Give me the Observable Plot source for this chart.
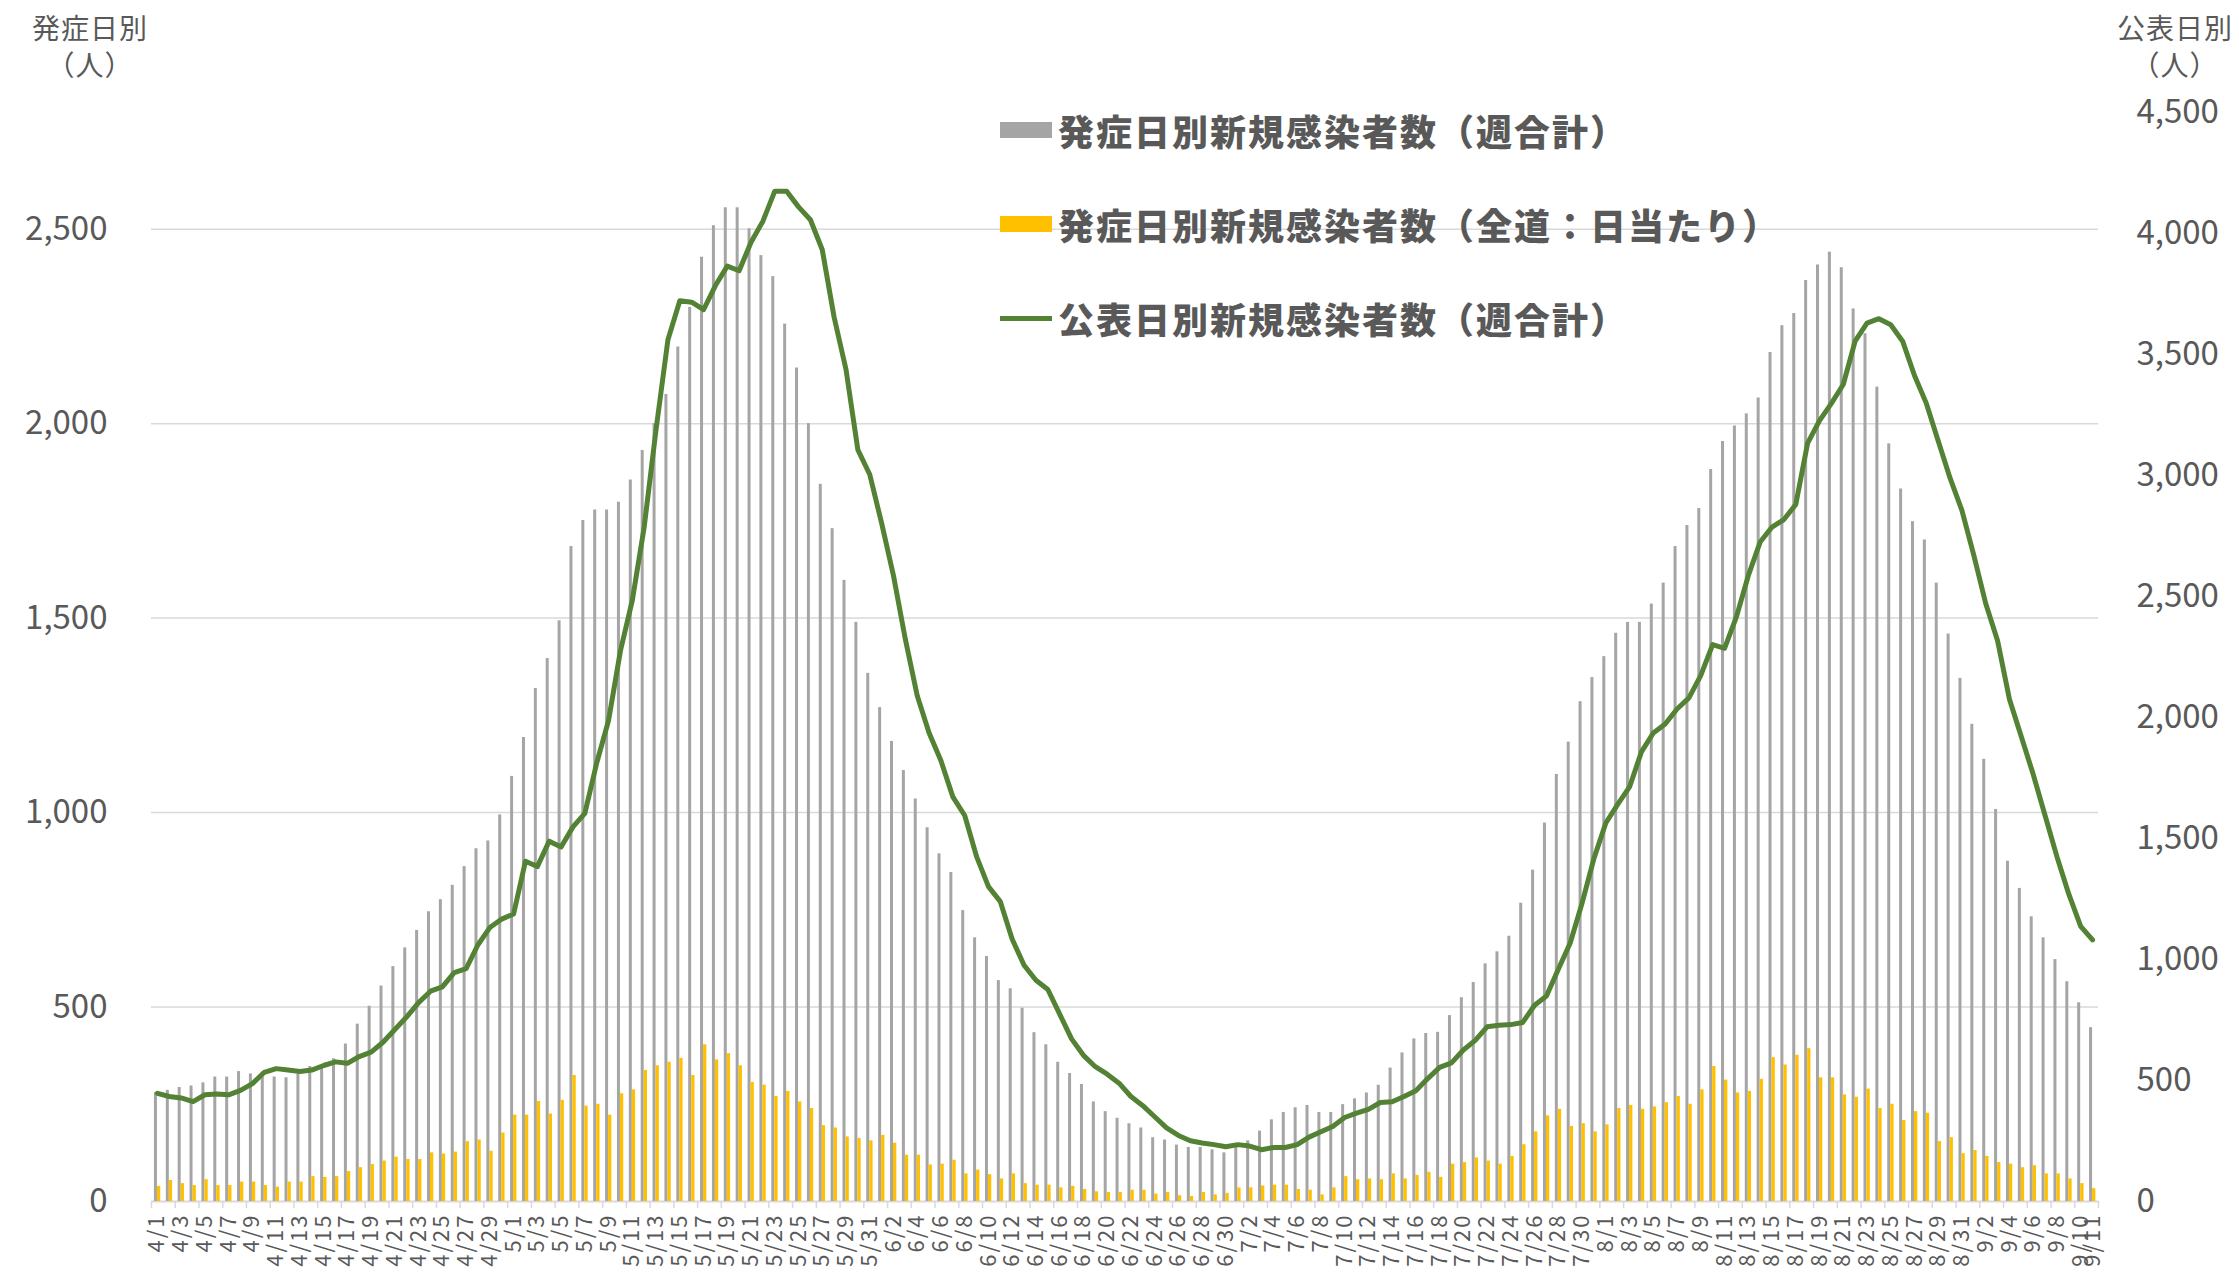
<!DOCTYPE html>
<html><head><meta charset="utf-8">
<script src="https://cdn.jsdelivr.net/npm/d3@7"></script>
<script src="https://cdn.jsdelivr.net/npm/@observablehq/plot@0.6"></script>
<style>
body{margin:0;background:#fff;font-family:"Noto Sans CJK JP","Noto Sans",sans-serif;}
#wrap{position:relative;width:2239px;height:1274px;overflow:hidden;background:#fff;}
#chart svg{position:absolute;left:0;top:0;}
.ttl{position:absolute;color:#595959;font-size:28px;line-height:37px;text-align:center;width:170px;letter-spacing:1px;}
.leg{position:absolute;left:1000px;height:40px;display:flex;align-items:center;white-space:nowrap;font-size:36px;font-weight:900;color:#595959;letter-spacing:2px;}
.sw{width:52px;margin-right:6px;}
[aria-label="x-axis tick label"] text{letter-spacing:2px;}
</style></head>
<body>
<div id="wrap">
<div id="chart"></div>
<div class="ttl" style="left:5px;top:9px">発症日別<br>（人）</div>
<div class="ttl" style="left:2090px;top:9px">公表日別<br>（人）</div>
<div class="leg" style="top:110px"><div class="sw" style="height:16px;background:#a5a5a5"></div>発症日別新規感染者数（週合計）</div>
<div class="leg" style="top:204px"><div class="sw" style="height:16px;background:#ffc000"></div>発症日別新規感染者数（全道：日当たり）</div>
<div class="leg" style="top:298px"><div class="sw" style="height:5px;background:#548235"></div>公表日別新規感染者数（週合計）</div>
</div>
<script>
const dates = [
"4/1","4/2","4/3","4/4","4/5","4/6","4/7","4/8","4/9","4/10","4/11","4/12","4/13","4/14","4/15","4/16","4/17","4/18","4/19","4/20","4/21","4/22","4/23","4/24","4/25","4/26","4/27","4/28","4/29","4/30",
"5/1","5/2","5/3","5/4","5/5","5/6","5/7","5/8","5/9","5/10","5/11","5/12","5/13","5/14","5/15","5/16","5/17","5/18","5/19","5/20","5/21","5/22","5/23","5/24","5/25","5/26","5/27","5/28","5/29","5/30","5/31",
"6/1","6/2","6/3","6/4","6/5","6/6","6/7","6/8","6/9","6/10","6/11","6/12","6/13","6/14","6/15","6/16","6/17","6/18","6/19","6/20","6/21","6/22","6/23","6/24","6/25","6/26","6/27","6/28","6/29","6/30",
"7/1","7/2","7/3","7/4","7/5","7/6","7/7","7/8","7/9","7/10","7/11","7/12","7/13","7/14","7/15","7/16","7/17","7/18","7/19","7/20","7/21","7/22","7/23","7/24","7/25","7/26","7/27","7/28","7/29","7/30","7/31",
"8/1","8/2","8/3","8/4","8/5","8/6","8/7","8/8","8/9","8/10","8/11","8/12","8/13","8/14","8/15","8/16","8/17","8/18","8/19","8/20","8/21","8/22","8/23","8/24","8/25","8/26","8/27","8/28","8/29","8/30","8/31",
"9/1","9/2","9/3","9/4","9/5","9/6","9/7","9/8","9/9","9/10","9/11"];

// 発症日別新規感染者数（週合計） — left axis
const onsetWeekly = [
280,286,293,297,305,320,320,334,328,322,320,318,328,347,342,367,405,456,502,554,604,652,697,745,776,813,861,907,927,994,
1093,1193,1319,1396,1493,1684,1751,1778,1778,1798,1855,1931,2000,2075,2197,2299,2428,2509,2555,2555,2501,2432,2378,2256,2143,2000,1844,1730,1597,1489,1358,
1270,1183,1108,1035,961,894,846,748,678,630,568,547,497,434,403,358,329,301,256,231,214,200,189,164,158,145,139,139,133,125,
145,156,181,210,229,241,247,229,229,249,264,279,299,343,382,418,432,435,478,524,563,611,642,682,767,852,973,1098,1181,1285,1347,
1401,1461,1489,1489,1536,1590,1684,1738,1782,1882,1954,1994,2025,2066,2183,2252,2283,2368,2408,2441,2401,2295,2231,2094,1948,1832,1748,1701,1590,1459,1345,
1227,1137,1008,875,805,732,678,622,565,511,447];

// 発症日別新規感染者数（全道：日当たり） — left axis
const onsetDaily = [
39,54,46,41,56,41,41,50,50,41,37,50,50,64,62,64,77,87,95,104,114,108,108,125,122,127,154,158,129,176,
222,222,257,225,260,324,245,250,222,277,287,337,349,358,368,324,403,364,380,349,306,299,270,283,256,239,195,189,166,162,156,
170,150,119,119,94,96,106,71,81,69,58,71,46,42,42,35,39,31,25,23,23,29,29,19,23,15,13,23,17,21,
35,35,40,42,42,31,29,17,35,64,56,58,56,71,58,67,75,62,96,100,112,104,96,116,146,179,220,237,193,200,179,
197,239,247,237,243,254,270,250,287,347,312,279,283,314,370,351,376,393,318,318,274,268,289,239,250,208,231,227,154,164,123,
131,116,100,96,87,92,71,71,58,46,33];

// 公表日別新規感染者数（週合計） — right axis
const publishedWeekly = [
447,434,428,413,441,444,441,459,487,534,549,543,537,543,562,577,571,599,617,658,711,763,822,869,887,946,962,1061,1132,1167,
1188,1406,1384,1489,1465,1548,1604,1812,1988,2276,2484,2787,3190,3561,3722,3716,3685,3785,3865,3846,3964,4051,4175,4175,4110,4057,3933,3654,3438,3106,3004,
2803,2586,2323,2090,1936,1821,1672,1595,1425,1301,1239,1084,976,914,876,774,672,604,557,526,489,434,396,350,304,273,251,242,235,226,
235,229,214,223,223,235,266,288,310,347,365,381,409,412,434,458,508,554,573,626,666,722,728,731,740,811,849,960,1068,1233,1418,
1564,1641,1713,1858,1936,1973,2035,2081,2174,2301,2286,2416,2586,2725,2787,2818,2880,3134,3227,3298,3376,3555,3630,3648,3623,3555,3413,3298,3143,2989,2855,
2670,2471,2317,2075,1920,1765,1595,1425,1270,1137,1081];

const xTickLabels = [
"4/1","4/3","4/5","4/7","4/9","4/11","4/13","4/15","4/17","4/19","4/21","4/23","4/25","4/27","4/29",
"5/1","5/3","5/5","5/7","5/9","5/11","5/13","5/15","5/17","5/19","5/21","5/23","5/25","5/27","5/29","5/31",
"6/2","6/4","6/6","6/8","6/10","6/12","6/14","6/16","6/18","6/20","6/22","6/24","6/26","6/28","6/30",
"7/2","7/4","7/6","7/8","7/10","7/12","7/14","7/16","7/18","7/20","7/22","7/24","7/26","7/28","7/30",
"8/1","8/3","8/5","8/7","8/9","8/11","8/13","8/15","8/17","8/19","8/21","8/23","8/25","8/27","8/29","8/31",
"9/2","9/4","9/6","9/8","9/10","9/11"];
const leftTicks = [0,500,1000,1500,2000,2500];
const rightTicks = [0,500,1000,1500,2000,2500,3000,3500,4000,4500];
const leftMax = 2800, rightMax = 4500;

const W = 2239, H = 1274, ML = 151, MR = 141, MT = 112, MB = 73;
const bw = (W - ML - MR) / dates.length;
const k = leftMax / rightMax;
const rows = dates.map((d, i) => ({d, g: onsetWeekly[i], y: onsetDaily[i], p: publishedWeekly[i] * k}));
const fmt = d3.format(",");
const tickDates = xTickLabels.filter(d => d !== "9/11");

const chart = Plot.plot({
  width: W, height: H, marginLeft: ML, marginRight: MR, marginTop: MT, marginBottom: MB,
  style: {fontFamily: '"Noto Sans CJK JP","Noto Sans",sans-serif', color: "#595959", background: "transparent"},
  x: {type: "band", domain: dates, padding: 0},
  y: {domain: [0, leftMax]},
  marks: [
    Plot.ruleY(leftTicks.filter(v => v > 0), {stroke: "#d9d9d9", strokeWidth: 1.5}),
    Plot.ruleY([0], {stroke: "#d9d9d9", strokeWidth: 2}),
    Plot.ruleX(tickDates, {x: d => d, y1: 0, y2: -18, dx: -bw / 2, stroke: "#d9d9d9", strokeWidth: 1.5}),
    Plot.ruleX(["9/11"], {x: d => d, y1: 0, y2: -18, dx: bw / 2, stroke: "#d9d9d9", strokeWidth: 1.5}),
    Plot.barY(rows, {x: "d", y: "g", fill: "#a5a5a5", insetLeft: bw / 2 - 3, insetRight: bw / 2}),
    Plot.barY(rows, {x: "d", y: "y", fill: "#ffc000", insetLeft: bw / 2, insetRight: bw / 2 - 3.3}),
    Plot.line(rows, {x: "d", y: "p", stroke: "#548235", strokeWidth: 5, strokeLinejoin: "round", strokeLinecap: "round"}),
    Plot.axisY({anchor: "left", ticks: leftTicks, tickFormat: fmt, tickSize: 0, tickPadding: 44, fontSize: 33, label: null}),
    Plot.axisY({anchor: "right", ticks: rightTicks.map(v => v * k), tickFormat: v => fmt(Math.round(v / k)), tickSize: 0, tickPadding: 38, fontSize: 33, label: null}),
    Plot.axisX({ticks: xTickLabels, tickRotate: -90, tickSize: 0, tickPadding: 12, fontSize: 22, label: null})
  ]
});
document.getElementById("chart").appendChild(chart);
</script>
</body></html>
